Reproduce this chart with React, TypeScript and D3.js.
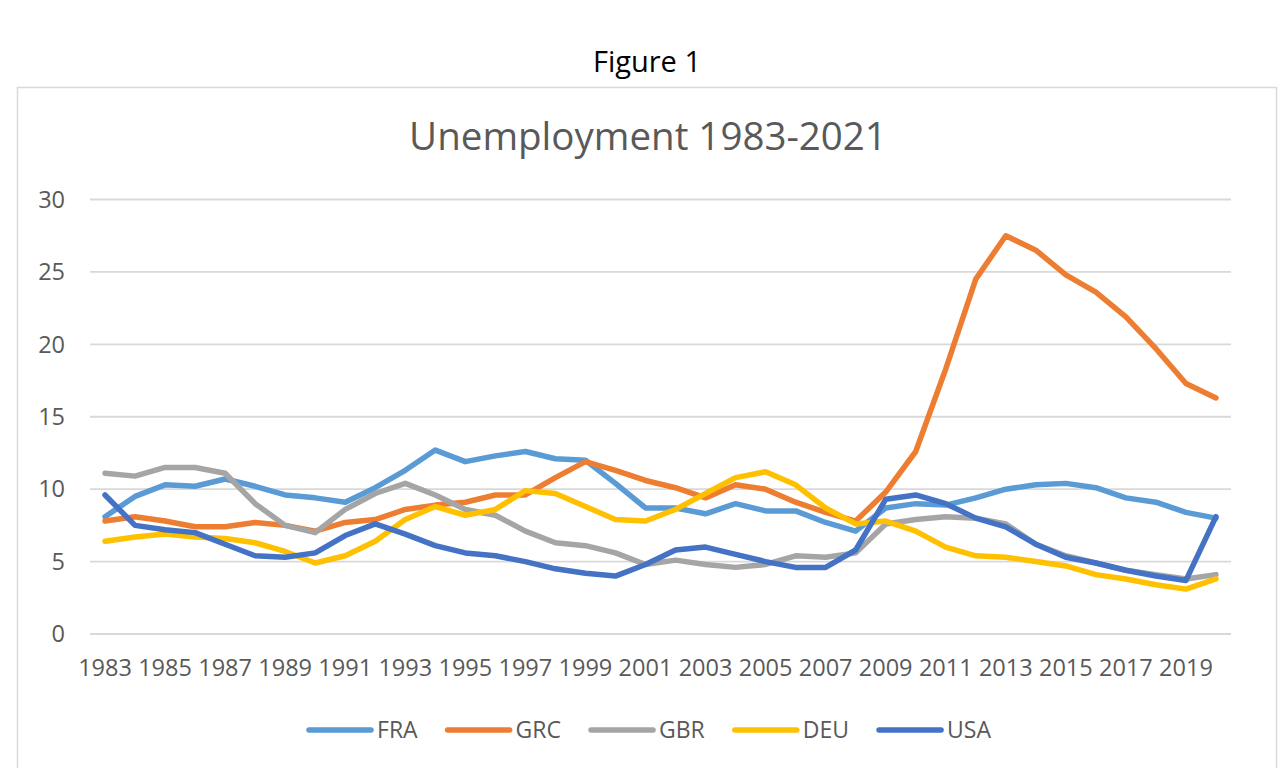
import * as d3 from 'd3'
import { useEffect, useRef } from 'react'

const years = [
  1983, 1984, 1985, 1986, 1987, 1988, 1989, 1990, 1991, 1992, 1993, 1994, 1995,
  1996, 1997, 1998, 1999, 2000, 2001, 2002, 2003, 2004, 2005, 2006, 2007, 2008,
  2009, 2010, 2011, 2012, 2013, 2014, 2015, 2016, 2017, 2018, 2019, 2020,
]

const fra = [
  8.1, 9.5, 10.3, 10.2, 10.7, 10.2, 9.6, 9.4, 9.1, 10.1, 11.3, 12.7, 11.9,
  12.3, 12.6, 12.1, 12.0, 10.4, 8.7, 8.7, 8.3, 9.0, 8.5, 8.5, 7.7, 7.1,
  8.7, 9.0, 8.9, 9.4, 10.0, 10.3, 10.4, 10.1, 9.4, 9.1, 8.4, 8.0,
]
const grc = [
  7.8, 8.1, 7.8, 7.4, 7.4, 7.7, 7.5, 7.1, 7.7, 7.9, 8.6, 8.9, 9.1,
  9.6, 9.6, 10.8, 11.9, 11.3, 10.6, 10.1, 9.4, 10.3, 10.0, 9.1, 8.4, 7.8,
  9.8, 12.6, 18.3, 24.5, 27.5, 26.5, 24.8, 23.6, 21.9, 19.7, 17.3, 16.3,
]
const gbr = [
  11.1, 10.9, 11.5, 11.5, 11.1, 9.0, 7.5, 7.0, 8.6, 9.7, 10.4, 9.6, 8.6,
  8.2, 7.1, 6.3, 6.1, 5.6, 4.8, 5.1, 4.8, 4.6, 4.8, 5.4, 5.3, 5.6,
  7.6, 7.9, 8.1, 8.0, 7.6, 6.2, 5.4, 4.9, 4.4, 4.1, 3.8, 4.1,
]
const deu = [
  6.4, 6.7, 6.9, 6.7, 6.6, 6.3, 5.7, 4.9, 5.4, 6.4, 7.9, 8.8, 8.2,
  8.6, 9.9, 9.7, 8.8, 7.9, 7.8, 8.6, 9.7, 10.8, 11.2, 10.3, 8.7, 7.6,
  7.8, 7.1, 6.0, 5.4, 5.3, 5.0, 4.7, 4.1, 3.8, 3.4, 3.1, 3.8,
]
const usa = [
  9.6, 7.5, 7.2, 7.0, 6.2, 5.4, 5.3, 5.6, 6.8, 7.6, 6.9, 6.1, 5.6,
  5.4, 5.0, 4.5, 4.2, 4.0, 4.8, 5.8, 6.0, 5.5, 5.0, 4.6, 4.6, 5.8,
  9.3, 9.6, 9.0, 8.0, 7.4, 6.2, 5.3, 4.9, 4.4, 4.0, 3.7, 8.1,
]

const seriesNames = ['FRA', 'GRC', 'GBR', 'DEU', 'USA']
const seriesValues = [fra, grc, gbr, deu, usa]
const seriesColors = ['#5B9BD5', '#ED7D31', '#A5A5A5', '#FFC000', '#4472C4']
const yTicks = [0, 5, 10, 15, 20, 25, 30]

const FONT = "'Open Sans', sans-serif"

export default function App() {
  const svgRef = useRef<SVGSVGElement>(null)

  useEffect(() => {
    if (!svgRef.current) return
    const svg = d3.select(svgRef.current)
    svg.selectAll('*').remove()

    // outer chart frame
    svg.append('rect')
      .attr('x', 17.5).attr('y', 87.5)
      .attr('width', 1259).attr('height', 720)
      .attr('fill', '#fff').attr('stroke', '#d9d9d9').attr('stroke-width', 1.5)

    svg.append('text')
      .attr('x', 647).attr('y', 72)
      .attr('text-anchor', 'middle')
      .attr('font-family', FONT).attr('font-size', 29)
      .attr('fill', '#000')
      .text('Figure 1')

    svg.append('text')
      .attr('x', 648).attr('y', 150)
      .attr('text-anchor', 'middle')
      .attr('font-family', FONT).attr('font-size', 38.5)
      .attr('fill', '#595959')
      .text('Unemployment 1983-2021')

    const x = d3.scaleBand<number>().domain(years).range([90, 1231]).padding(0)
    const xc = (yr: number) => (x(yr) ?? 0) + x.bandwidth() / 2
    const y = d3.scaleLinear().domain([0, 30]).range([634, 199.5])

    // gridlines
    svg.append('g')
      .selectAll('line')
      .data(yTicks)
      .join('line')
      .attr('x1', 90).attr('x2', 1231)
      .attr('y1', (d) => y(d)).attr('y2', (d) => y(d))
      .attr('stroke', '#d9d9d9').attr('stroke-width', 1.8)

    svg.append('g')
      .selectAll('text')
      .data(yTicks)
      .join('text')
      .attr('x', 65).attr('y', (d) => y(d))
      .attr('dy', '0.35em')
      .attr('text-anchor', 'end')
      .attr('font-family', FONT).attr('font-size', 23.5)
      .attr('fill', '#595959')
      .text((d) => d)

    svg.append('g')
      .selectAll('text')
      .data(years.filter((_, i) => i % 2 === 0))
      .join('text')
      .attr('x', (d) => xc(d)).attr('y', 668)
      .attr('dy', '0.35em')
      .attr('text-anchor', 'middle')
      .attr('font-family', FONT).attr('font-size', 23.5)
      .attr('fill', '#595959')
      .text((d) => d)

    const line = d3.line<number>()
      .x((_, i) => xc(years[i]))
      .y((d) => y(d))

    svg.append('g')
      .selectAll('path')
      .data(seriesValues)
      .join('path')
      .attr('d', (d) => line(d))
      .attr('fill', 'none')
      .attr('stroke', (_, i) => seriesColors[i])
      .attr('stroke-width', 5.5)
      .attr('stroke-linejoin', 'round')
      .attr('stroke-linecap', 'round')

    // legend, laid out from measured text widths and centred
    const legend = svg.append('g')
    const lineLen = 62
    const gap = 6
    const itemGap = 30
    let cursor = 0
    seriesNames.forEach((name, i) => {
      const g = legend.append('g').attr('transform', `translate(${cursor},0)`)
      g.append('line')
        .attr('x1', 0).attr('x2', lineLen)
        .attr('y1', 0).attr('y2', 0)
        .attr('stroke', seriesColors[i])
        .attr('stroke-width', 5.5)
        .attr('stroke-linecap', 'round')
      const t = g.append('text')
        .attr('x', lineLen + gap).attr('y', 0)
        .attr('dy', '0.35em')
        .attr('font-family', FONT).attr('font-size', 23)
        .attr('fill', '#595959')
        .text(name)
      const w = (t.node() as SVGTextElement).getComputedTextLength()
      cursor += lineLen + gap + w + itemGap
    })
    const total = cursor - itemGap
    legend.attr('transform', `translate(${650 - total / 2},730)`)
  }, [])

  return (
    <svg
      ref={svgRef}
      width={1280}
      height={768}
      style={{ position: 'absolute', left: 0, top: 0, background: '#fff' }}
    />
  )
}
